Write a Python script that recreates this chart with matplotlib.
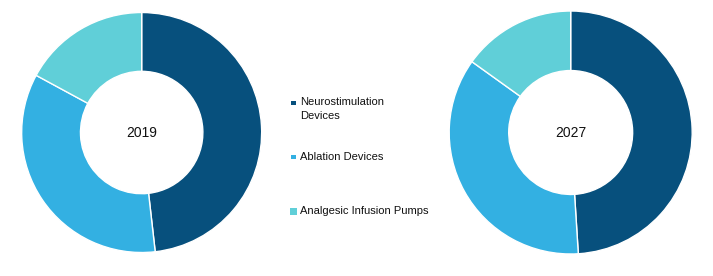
import matplotlib.pyplot as plt
from matplotlib.patches import Rectangle

plt.rcParams['font.family'] = ['Liberation Sans', 'DejaVu Sans']

segments = ['Neurostimulation\nDevices', 'Ablation Devices', 'Analgesic Infusion Pumps']
share_2019 = [48.2, 34.7, 17.1]
share_2027 = [49.0, 35.9, 15.1]
colors = ['#07507d', '#33b0e2', '#60cfd8']

fig = plt.figure(figsize=(7.13, 2.76), dpi=100)

def donut(rect, values, year):
    ax = fig.add_axes(rect)
    ax.pie(values, colors=colors, startangle=90, counterclock=False,
           radius=1, wedgeprops=dict(width=0.49, edgecolor='white', linewidth=1))
    ax.set_xlim(-1, 1)
    ax.set_ylim(-1, 1)
    ax.text(0, 0, year, ha='center', va='center', fontsize=10, color='#111111')
    ax.axis('off')

donut([0.0304, 0.0851, 0.3366, 0.8696], share_2019, '2019')
donut([0.6300, 0.0797, 0.3408, 0.8804], share_2027, '2027')

# legend in the middle
legend_y = [103, 157, 211]
marker_px = [4.5, 4.5, 7]
for lab, c, y, s in zip(segments, colors, legend_y, marker_px):
    fy = 1 - y / 276
    fig.patches.append(Rectangle((293.5 / 713 - s / 2 / 713, fy - s / 2 / 276),
                                 s / 713, s / 276, transform=fig.transFigure,
                                 facecolor=c, edgecolor='none'))
    if '\n' in lab:
        fig.text(300 / 713, fy + 6 / 276, lab, ha='left', va='top',
                 fontsize=8, color='#111111', linespacing=1.45)
    else:
        fig.text(300 / 713, fy, lab, ha='left', va='center',
                 fontsize=8, color='#111111')

fig.savefig('out.png', dpi=100)
